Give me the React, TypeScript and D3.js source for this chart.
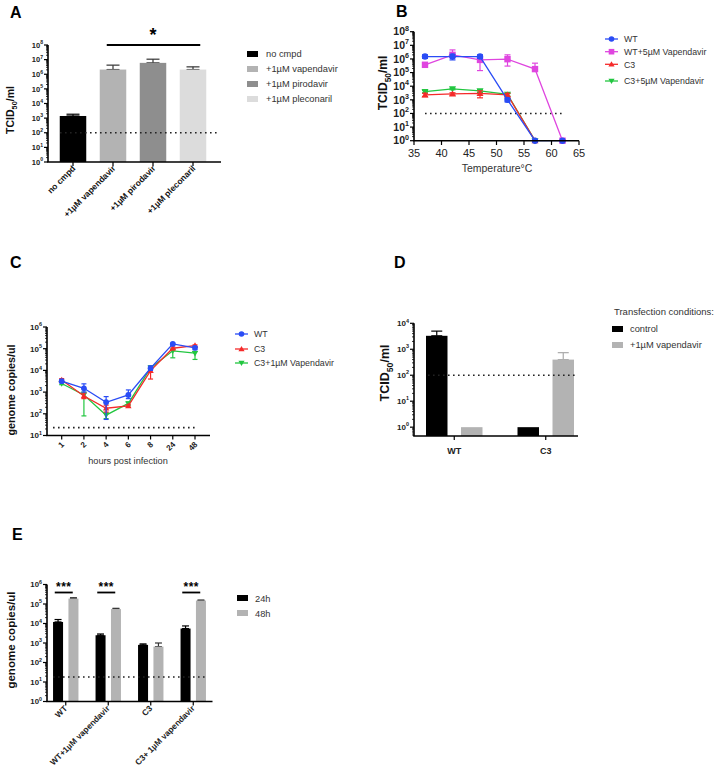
import React from "react";
import * as d3 from "d3";

const FONT = "'Liberation Sans', Arial, Helvetica, sans-serif";

// ---------- Panel A ----------
const aCategories = ["no cmpd", "+1µM vapendavir", "+1µM pirodavir", "+1µM pleconaril"];
const aValues = [1400, 2.1e6, 6e6, 2.1e6];
const aErrHi = [1850, 4.2e6, 1.07e7, 3.2e6];
const aColors = ["#000000", "#b3b3b3", "#8e8e8e", "#dcdcdc"];
const aLimit = 100;

// ---------- Panel B ----------
const bTemps = [37, 42, 47, 52, 57, 62];
const bSeries = ["WT", "WT+5µM Vapendavir", "C3", "C3+5µM Vapendavir"];
const bWT = [1.5e6, 1.5e6, 1.5e6, 1e3, 1, 1];
const bWTLo = [1.1e6, 8.5e5, 1.1e6, 7e2, null, null];
const bWTHi = [2e6, 2.2e6, 2e6, 1.3e3, null, null];
const bWTV = [3.7e5, 2e6, 8.5e5, 9.6e5, 1.8e5, 1];
const bWTVLo = [2.5e5, 1.2e6, 1.4e5, 3e5, 1.8e5, null];
const bWTVHi = [5.5e5, 4.6e6, 1.3e6, 2e6, 4.9e5, null];
const bC3 = [2.3e3, 2.7e3, 3e3, 2.3e3, 1, null];
const bC3Lo = [1.7e3, 2.2e3, 1.4e3, 1.7e3, null, null];
const bC3Hi = [3e3, 3.3e3, 4.5e3, 3e3, null, null];
const bC3V = [4e3, 6.3e3, 4.5e3, 2.5e3, 1, null];
const bC3VLo = [3.3e3, 5.5e3, 3.5e3, 1.9e3, null, null];
const bC3VHi = [4.8e3, 7e3, 5.5e3, 2.9e3, null, null];
const bLimit = 100;

// ---------- Panel C ----------
const cHours = ["1", "2", "4", "6", "8", "24", "48"];
const cSeries = ["WT", "C3", "C3+1µM Vapendavir"];
const cWT = [3.2e3, 1.5e3, 3.4e2, 7.4e2, 1.26e4, 1.66e5, 1.1e5];
const cWTLo = [2.7e3, 1e3, 55, 5e2, 1e4, 1.5e5, 9e4];
const cWTHi = [3.8e3, 2.4e3, 6.2e2, 1.26e3, 1.6e4, 1.8e5, 1.3e5];
const cC3 = [3.6e3, 6.6e2, 1.8e2, 2.3e2, 9.8e3, 1.05e5, 1.4e5];
const cC3Lo = [3e3, 5e2, 1.2e2, 2e2, 4e3, 9e4, 1.2e5];
const cC3Hi = [4.2e3, 9e2, 2.5e2, 2.6e2, 1.3e4, 1.2e5, 1.5e5];
const cC3V = [2.5e3, 7.4e2, 87, 3e2, 1.3e4, 8e4, 6.2e4];
const cC3VLo = [2.2e3, 80, 60, 2.5e2, 1.1e4, 3.8e4, 3.2e4];
const cC3VHi = [2.8e3, 1e3, 1.1e2, 3.5e2, 1.6e4, 9.5e4, 7.5e4];
const cLimit = 23;

// ---------- Panel D ----------
const dGroups = ["WT", "C3"];
const dConditions = ["control", "+1µM vapendavir"];
const dControl = [3.3e3, 1];
const dControlHi = [5e3, null];
const dVap = [1, 4e2];
const dVapHi = [null, 7.4e2];
const dColors = ["#000000", "#b3b3b3"];
const dLimit = 100;

// ---------- Panel E ----------
const eGroups = ["WT", "WT+1µM vapendavir", "C3", "C3+ 1µM vapendavir"];
const eTimes = ["24h", "48h"];
const e24 = [1.2e4, 2.5e3, 8e2, 5.5e3];
const e24Hi = [1.6e4, 2.9e3, 9e2, 7.5e3];
const e48 = [1.9e5, 5.5e4, 6.5e2, 1.5e5];
const e48Hi = [2.1e5, 6e4, 1e3, 1.6e5];
const eSignificant = [true, true, false, true];
const eColors = ["#000000", "#b3b3b3"];
const eLimit = 18;

// ---------- helpers ----------
type LogScale = d3.ScaleLogarithmic<number, number>;

function LogYAxis({ x, y, fontSize, bold = true, minor = true }: { x: number; y: LogScale; fontSize: number; bold?: boolean; minor?: boolean }) {
  const [lo, hi] = y.domain();
  const r = y.range();
  const kMin = Math.ceil(Math.log10(lo) - 1e-9);
  const kMax = Math.floor(Math.log10(hi) + 1e-9);
  const majors = d3.range(kMin, kMax + 1);
  const minors: number[] = [];
  if (minor) {
    for (let k = Math.floor(Math.log10(lo)); k <= kMax; k++) {
      for (let m = 2; m <= 9; m++) {
        const v = m * Math.pow(10, k);
        if (v >= lo && v <= hi) minors.push(v);
      }
    }
  }
  return (
    <g>
      <line x1={x} x2={x} y1={r[0]} y2={r[1]} stroke="#000" strokeWidth={1.6} />
      {minors.map((v, i) => (
        <line key={"m" + i} x1={x - 2} x2={x} y1={y(v)} y2={y(v)} stroke="#000" strokeWidth={0.8} />
      ))}
      {majors.map((k) => (
        <g key={k}>
          <line x1={x - 4} x2={x} y1={y(Math.pow(10, k))} y2={y(Math.pow(10, k))} stroke="#000" strokeWidth={1.2} />
          <text x={x - 5} y={y(Math.pow(10, k)) + fontSize * 0.35} textAnchor="end" fontSize={fontSize} fontWeight={bold ? "bold" : "normal"} fill="#222">
            10<tspan dy={-fontSize * 0.45} fontSize={fontSize * 0.68}>{k}</tspan>
          </text>
        </g>
      ))}
    </g>
  );
}

function Dotted({ x1, x2, yv }: { x1: number; x2: number; yv: number }) {
  return <line x1={x1} x2={x2} y1={yv} y2={yv} stroke="#222" strokeWidth={1.6} strokeDasharray="1.6 3.4" />;
}

function Marker({ type, x, y, color, s = 3.2 }: { type: string; x: number; y: number; color: string; s?: number }) {
  if (type === "circle") return <circle cx={x} cy={y} r={s} fill={color} />;
  if (type === "square") return <rect x={x - s} y={y - s} width={2 * s} height={2 * s} fill={color} />;
  if (type === "up") return <path d={`M${x},${y - s * 1.1}L${x + s * 1.1},${y + s * 0.8}L${x - s * 1.1},${y + s * 0.8}Z`} fill={color} />;
  return <path d={`M${x},${y + s * 1.1}L${x + s * 1.1},${y - s * 0.8}L${x - s * 1.1},${y - s * 0.8}Z`} fill={color} />;
}

function ErrBar({ x, y1, y2, color, cap, w = 1.2 }: { x: number; y1: number; y2: number; color: string; cap: number; w?: number }) {
  return (
    <g stroke={color} strokeWidth={w}>
      <line x1={x} x2={x} y1={y1} y2={y2} />
      <line x1={x - cap / 2} x2={x + cap / 2} y1={y1} y2={y1} />
      <line x1={x - cap / 2} x2={x + cap / 2} y1={y2} y2={y2} />
    </g>
  );
}

function YTitle({ x, cy, size, children }: { x: number; cy: number; size: number; children: React.ReactNode }) {
  return (
    <text transform={`translate(${x},${cy}) rotate(-90)`} textAnchor="middle" fontSize={size} fontWeight="bold" fill="#111">
      {children}
    </text>
  );
}

function TCID({ size }: { size: number }) {
  return (
    <>
      TCID<tspan dy={size * 0.3} fontSize={size * 0.7}>50</tspan>
      <tspan dy={-size * 0.3}>/ml</tspan>
    </>
  );
}

function Letter({ x, y, t }: { x: number; y: number; t: string }) {
  return (
    <text x={x} y={y} fontSize={16} fontWeight="bold" fill="#000">
      {t}
    </text>
  );
}

// ---------- Panels ----------
function PanelA() {
  const y = d3.scaleLog().domain([1, 1e8]).range([162, 45]);
  const x = d3.scaleBand<string>().domain(aCategories).range([53, 213]).paddingInner(0.3375).paddingOuter(0.16875);
  const bw = x.bandwidth();
  return (
    <g>
      <Letter x={10} y={18} t="A" />
      {aCategories.map((c, i) => (
        <g key={c}>
          <ErrBar x={x(c)! + bw / 2} y1={y(aErrHi[i])} y2={y(aValues[i])} color={i === 0 ? "#000" : "#333"} cap={13} />
          <rect x={x(c)!} y={y(aValues[i])} width={bw} height={y(1) - y(aValues[i])} fill={aColors[i]} />
        </g>
      ))}
      <Dotted x1={60} x2={217} yv={y(aLimit)} />
      <LogYAxis x={48} y={y} fontSize={7.5} />
      <line x1={47.2} x2={221} y1={162} y2={162} stroke="#000" strokeWidth={1.6} />
      {aCategories.map((c) => (
        <line key={c} x1={x(c)! + bw / 2} x2={x(c)! + bw / 2} y1={162} y2={166} stroke="#000" strokeWidth={1.2} />
      ))}
      {aCategories.map((c) => (
        <text key={c} transform={`translate(${x(c)! + bw / 2 + 3},${169}) rotate(-45)`} textAnchor="end" fontSize={8.5} fontWeight="bold" fill="#111">
          {c}
        </text>
      ))}
      <line x1={x(aCategories[1])! + 7} x2={x(aCategories[3])! + bw - 6} y1={45} y2={45} stroke="#000" strokeWidth={2} />
      <text x={(x(aCategories[1])! + x(aCategories[3])! + bw) / 2} y={41} textAnchor="middle" fontSize={18} fontWeight="bold">
        *
      </text>
      <YTitle x={14} cy={110} size={10.5}>
        <TCID size={10.5} />
      </YTitle>
      {aCategories.map((c, i) => (
        <g key={c}>
          <rect x={247} y={51 + i * 15} width={11} height={6} fill={aColors[i]} />
          <text x={266} y={57 + i * 15} fontSize={9.3} fill="#333">
            {c}
          </text>
        </g>
      ))}
    </g>
  );
}

function PanelB() {
  const y = d3.scaleLog().domain([1, 1e8]).range([140.7, 31.7]);
  const x = d3.scaleLinear().domain([35, 65]).range([414, 579]);
  const colors = ["#2a4cf5", "#df45df", "#f52a2a", "#22c640"];
  const markers = ["circle", "square", "up", "down"];
  const vals = [bWT, bWTV, bC3, bC3V];
  const los = [bWTLo, bWTVLo, bC3Lo, bC3VLo];
  const his = [bWTHi, bWTVHi, bC3Hi, bC3VHi];
  const order = [1, 3, 2, 0];
  const legendY = [39, 51.7, 64.3, 81];
  return (
    <g>
      <Letter x={396} y={17} t="B" />
      <Dotted x1={425} x2={565} yv={y(bLimit)} />
      {order.map((si) => {
        const line = d3
          .line<number | null>()
          .defined((d) => d != null)
          .x((_, i) => x(bTemps[i]))
          .y((d) => y(d as number));
        return (
          <g key={si}>
            <path d={line(vals[si])!} fill="none" stroke={colors[si]} strokeWidth={1.3} />
            {vals[si].map((v, i) =>
              v != null && los[si][i] != null ? (
                <ErrBar key={"e" + i} x={x(bTemps[i])} y1={y(his[si][i] as number)} y2={y(los[si][i] as number)} color={colors[si]} cap={6} />
              ) : null
            )}
            {vals[si].map((v, i) => (v != null ? <Marker key={i} type={markers[si]} x={x(bTemps[i])} y={y(v)} color={colors[si]} /> : null))}
          </g>
        );
      })}
      <LogYAxis x={414} y={y} fontSize={10.5} />
      <line x1={413.2} x2={579} y1={140.7} y2={140.7} stroke="#000" strokeWidth={1.6} />
      {d3.range(35, 66, 5).map((t) => (
        <g key={t}>
          <line x1={x(t)} x2={x(t)} y1={140.7} y2={145} stroke="#000" strokeWidth={1.2} />
          <text x={x(t)} y={156.5} textAnchor="middle" fontSize={11} fill="#222">
            {t}
          </text>
        </g>
      ))}
      <text x={497} y={172} textAnchor="middle" fontSize={10.5} fill="#333">
        Temperature°C
      </text>
      <YTitle x={387} cy={83} size={12}>
        <TCID size={12} />
      </YTitle>
      {bSeries.map((s, i) => (
        <g key={s}>
          <line x1={605} x2={618} y1={legendY[i]} y2={legendY[i]} stroke={colors[i]} strokeWidth={1.3} />
          <Marker type={markers[i]} x={611.5} y={legendY[i]} color={colors[i]} s={2.8} />
          <text x={624} y={legendY[i] + 3.3} fontSize={8.8} fill="#333">
            {s}
          </text>
        </g>
      ))}
    </g>
  );
}

function PanelC() {
  const y = d3.scaleLog().domain([10, 1e6]).range([435.5, 327]);
  const x = d3.scalePoint<string>().domain(cHours).range([61.7, 195]);
  const colors = ["#2a4cf5", "#f52a2a", "#22c640"];
  const markers = ["circle", "up", "down"];
  const vals = [cWT, cC3, cC3V];
  const los = [cWTLo, cC3Lo, cC3VLo];
  const his = [cWTHi, cC3Hi, cC3VHi];
  const order = [2, 1, 0];
  const legendY = [334, 349, 363];
  return (
    <g>
      <Letter x={10} y={268} t="C" />
      <Dotted x1={53} x2={198} yv={y(cLimit)} />
      {order.map((si) => {
        const line = d3
          .line<number>()
          .x((_, i) => x(cHours[i])!)
          .y((d) => y(d));
        return (
          <g key={si}>
            <path d={line(vals[si])!} fill="none" stroke={colors[si]} strokeWidth={1.3} />
            {vals[si].map((v, i) => (
              <ErrBar key={"e" + i} x={x(cHours[i])!} y1={y(his[si][i])} y2={y(los[si][i])} color={colors[si]} cap={5} />
            ))}
            {vals[si].map((v, i) => (
              <Marker key={i} type={markers[si]} x={x(cHours[i])!} y={y(v)} color={colors[si]} s={2.9} />
            ))}
          </g>
        );
      })}
      <LogYAxis x={47} y={y} fontSize={8} />
      <line x1={46.2} x2={210} y1={435.5} y2={435.5} stroke="#000" strokeWidth={1.6} />
      {cHours.map((h) => (
        <g key={h}>
          <line x1={x(h)!} x2={x(h)!} y1={435.5} y2={439.5} stroke="#000" strokeWidth={1.2} />
          <text transform={`translate(${x(h)! + 3},${445}) rotate(-45)`} textAnchor="end" fontSize={8} fontWeight="bold" fill="#222">
            {h}
          </text>
        </g>
      ))}
      <text x={128} y={464} textAnchor="middle" fontSize={9.2} fill="#333">
        hours post infection
      </text>
      <YTitle x={15} cy={390} size={10.8}>
        genome copies/ul
      </YTitle>
      {cSeries.map((s, i) => (
        <g key={s}>
          <line x1={235} x2={248} y1={legendY[i]} y2={legendY[i]} stroke={colors[i]} strokeWidth={1.3} />
          <Marker type={markers[i]} x={241.5} y={legendY[i]} color={colors[i]} s={2.8} />
          <text x={254} y={legendY[i] + 3.3} fontSize={8.8} fill="#333">
            {s}
          </text>
        </g>
      ))}
    </g>
  );
}

function PanelD() {
  const y = d3.scaleLog().domain([Math.pow(10, -0.34), 1e4]).range([436, 323.3]);
  const xg = d3.scaleBand<string>().domain(dGroups).range([408.5, 591.5]).padding(0);
  const xi = d3.scaleBand<string>().domain(dConditions).range([-35, 35]).paddingInner(0.386).paddingOuter(0.193);
  const bw = xi.bandwidth();
  const series = [dControl, dVap];
  const his = [dControlHi, dVapHi];
  const errColors = ["#000", "#aaa"];
  return (
    <g>
      <Letter x={394} y={268} t="D" />
      {dGroups.map((g, gi) => (
        <g key={g}>
          {dConditions.map((c, ci) => {
            const bx = xg(g)! + xg.bandwidth() / 2 + xi(c)!;
            const v = series[ci][gi];
            const h = his[ci][gi];
            return (
              <g key={c}>
                {h != null ? <ErrBar x={bx + bw / 2} y1={y(h)} y2={y(v)} color={errColors[ci]} cap={11} /> : null}
                <rect x={bx} y={y(v)} width={bw} height={436 - y(v)} fill={dColors[ci]} />
              </g>
            );
          })}
        </g>
      ))}
      <Dotted x1={428} x2={576} yv={y(dLimit)} />
      <LogYAxis x={414} y={y} fontSize={8} />
      <line x1={413.2} x2={578} y1={436} y2={436} stroke="#000" strokeWidth={1.6} />
      {dGroups.map((g) => (
        <g key={g}>
          <line x1={xg(g)! + xg.bandwidth() / 2} x2={xg(g)! + xg.bandwidth() / 2} y1={436} y2={440} stroke="#000" strokeWidth={1.2} />
          <text x={xg(g)! + xg.bandwidth() / 2} y={454} textAnchor="middle" fontSize={9} fontWeight="bold" fill="#222">
            {g}
          </text>
        </g>
      ))}
      <YTitle x={389} cy={373} size={12.5}>
        <TCID size={12.5} />
      </YTitle>
      <text x={614} y={315} fontSize={9.5} fill="#333">
        Transfection conditions:
      </text>
      {dConditions.map((c, i) => (
        <g key={c}>
          <rect x={612} y={326 + i * 16} width={11} height={6} fill={dColors[i]} />
          <text x={630} y={332 + i * 16} fontSize={9.3} fill="#333">
            {c}
          </text>
        </g>
      ))}
    </g>
  );
}

function PanelE() {
  const y = d3.scaleLog().domain([1, 1e6]).range([701.5, 584.5]);
  const xg = d3.scaleBand<string>().domain(eGroups).range([44.5, 214.5]).padding(0);
  const xi = d3.scaleBand<string>().domain(eTimes).range([-15.4, 15.4]).paddingInner(0.35).paddingOuter(0.175);
  const bw = xi.bandwidth();
  const series = [e24, e48];
  const his = [e24Hi, e48Hi];
  const errColors = ["#000", "#333"];
  return (
    <g>
      <Letter x={12} y={540} t="E" />
      {eGroups.map((g, gi) => (
        <g key={g}>
          {eTimes.map((t, ti) => {
            const bx = xg(g)! + xg.bandwidth() / 2 + xi(t)!;
            const v = series[ti][gi];
            return (
              <g key={t}>
                <ErrBar x={bx + bw / 2} y1={y(his[ti][gi])} y2={y(v)} color={errColors[ti]} cap={7} />
                <rect x={bx} y={y(v)} width={bw} height={701.5 - y(v)} fill={eColors[ti]} />
              </g>
            );
          })}
          {eSignificant[gi] ? (
            <g>
              <line x1={xg(g)! + xg.bandwidth() / 2 - 11} x2={xg(g)! + xg.bandwidth() / 2 + 7} y1={592.5} y2={592.5} stroke="#000" strokeWidth={1.8} />
              <text x={xg(g)! + xg.bandwidth() / 2 - 2} y={591} textAnchor="middle" fontSize={12} fontWeight="bold" letterSpacing={0.5}>
                ***
              </text>
            </g>
          ) : null}
        </g>
      ))}
      <Dotted x1={53} x2={207} yv={y(eLimit)} />
      <LogYAxis x={47} y={y} fontSize={7.8} />
      <line x1={46.2} x2={212.5} y1={701.5} y2={701.5} stroke="#000" strokeWidth={1.6} />
      {eGroups.map((g) => (
        <g key={g}>
          <line x1={xg(g)! + xg.bandwidth() / 2} x2={xg(g)! + xg.bandwidth() / 2} y1={701.5} y2={705.5} stroke="#000" strokeWidth={1.2} />
          <text transform={`translate(${xg(g)! + xg.bandwidth() / 2 + 2},${709}) rotate(-45)`} textAnchor="end" fontSize={8.3} fontWeight="bold" fill="#222">
            {g}
          </text>
        </g>
      ))}
      <YTitle x={15} cy={640} size={11.5}>
        genome copies/ul
      </YTitle>
      {eTimes.map((t, i) => (
        <g key={t}>
          <rect x={237} y={595 + i * 15} width={11} height={6} fill={eColors[i]} />
          <text x={255} y={601.5 + i * 15} fontSize={9.3} fill="#333">
            {t}
          </text>
        </g>
      ))}
    </g>
  );
}

export default function App() {
  return (
    <div style={{ position: "absolute", left: 0, top: 0 }}>
      <svg width={715} height={771} viewBox="0 0 715 771" style={{ display: "block", background: "#fff" }} fontFamily={FONT}>
        <rect width={715} height={771} fill="#fff" />
        <PanelA />
        <PanelB />
        <PanelC />
        <PanelD />
        <PanelE />
      </svg>
    </div>
  );
}
